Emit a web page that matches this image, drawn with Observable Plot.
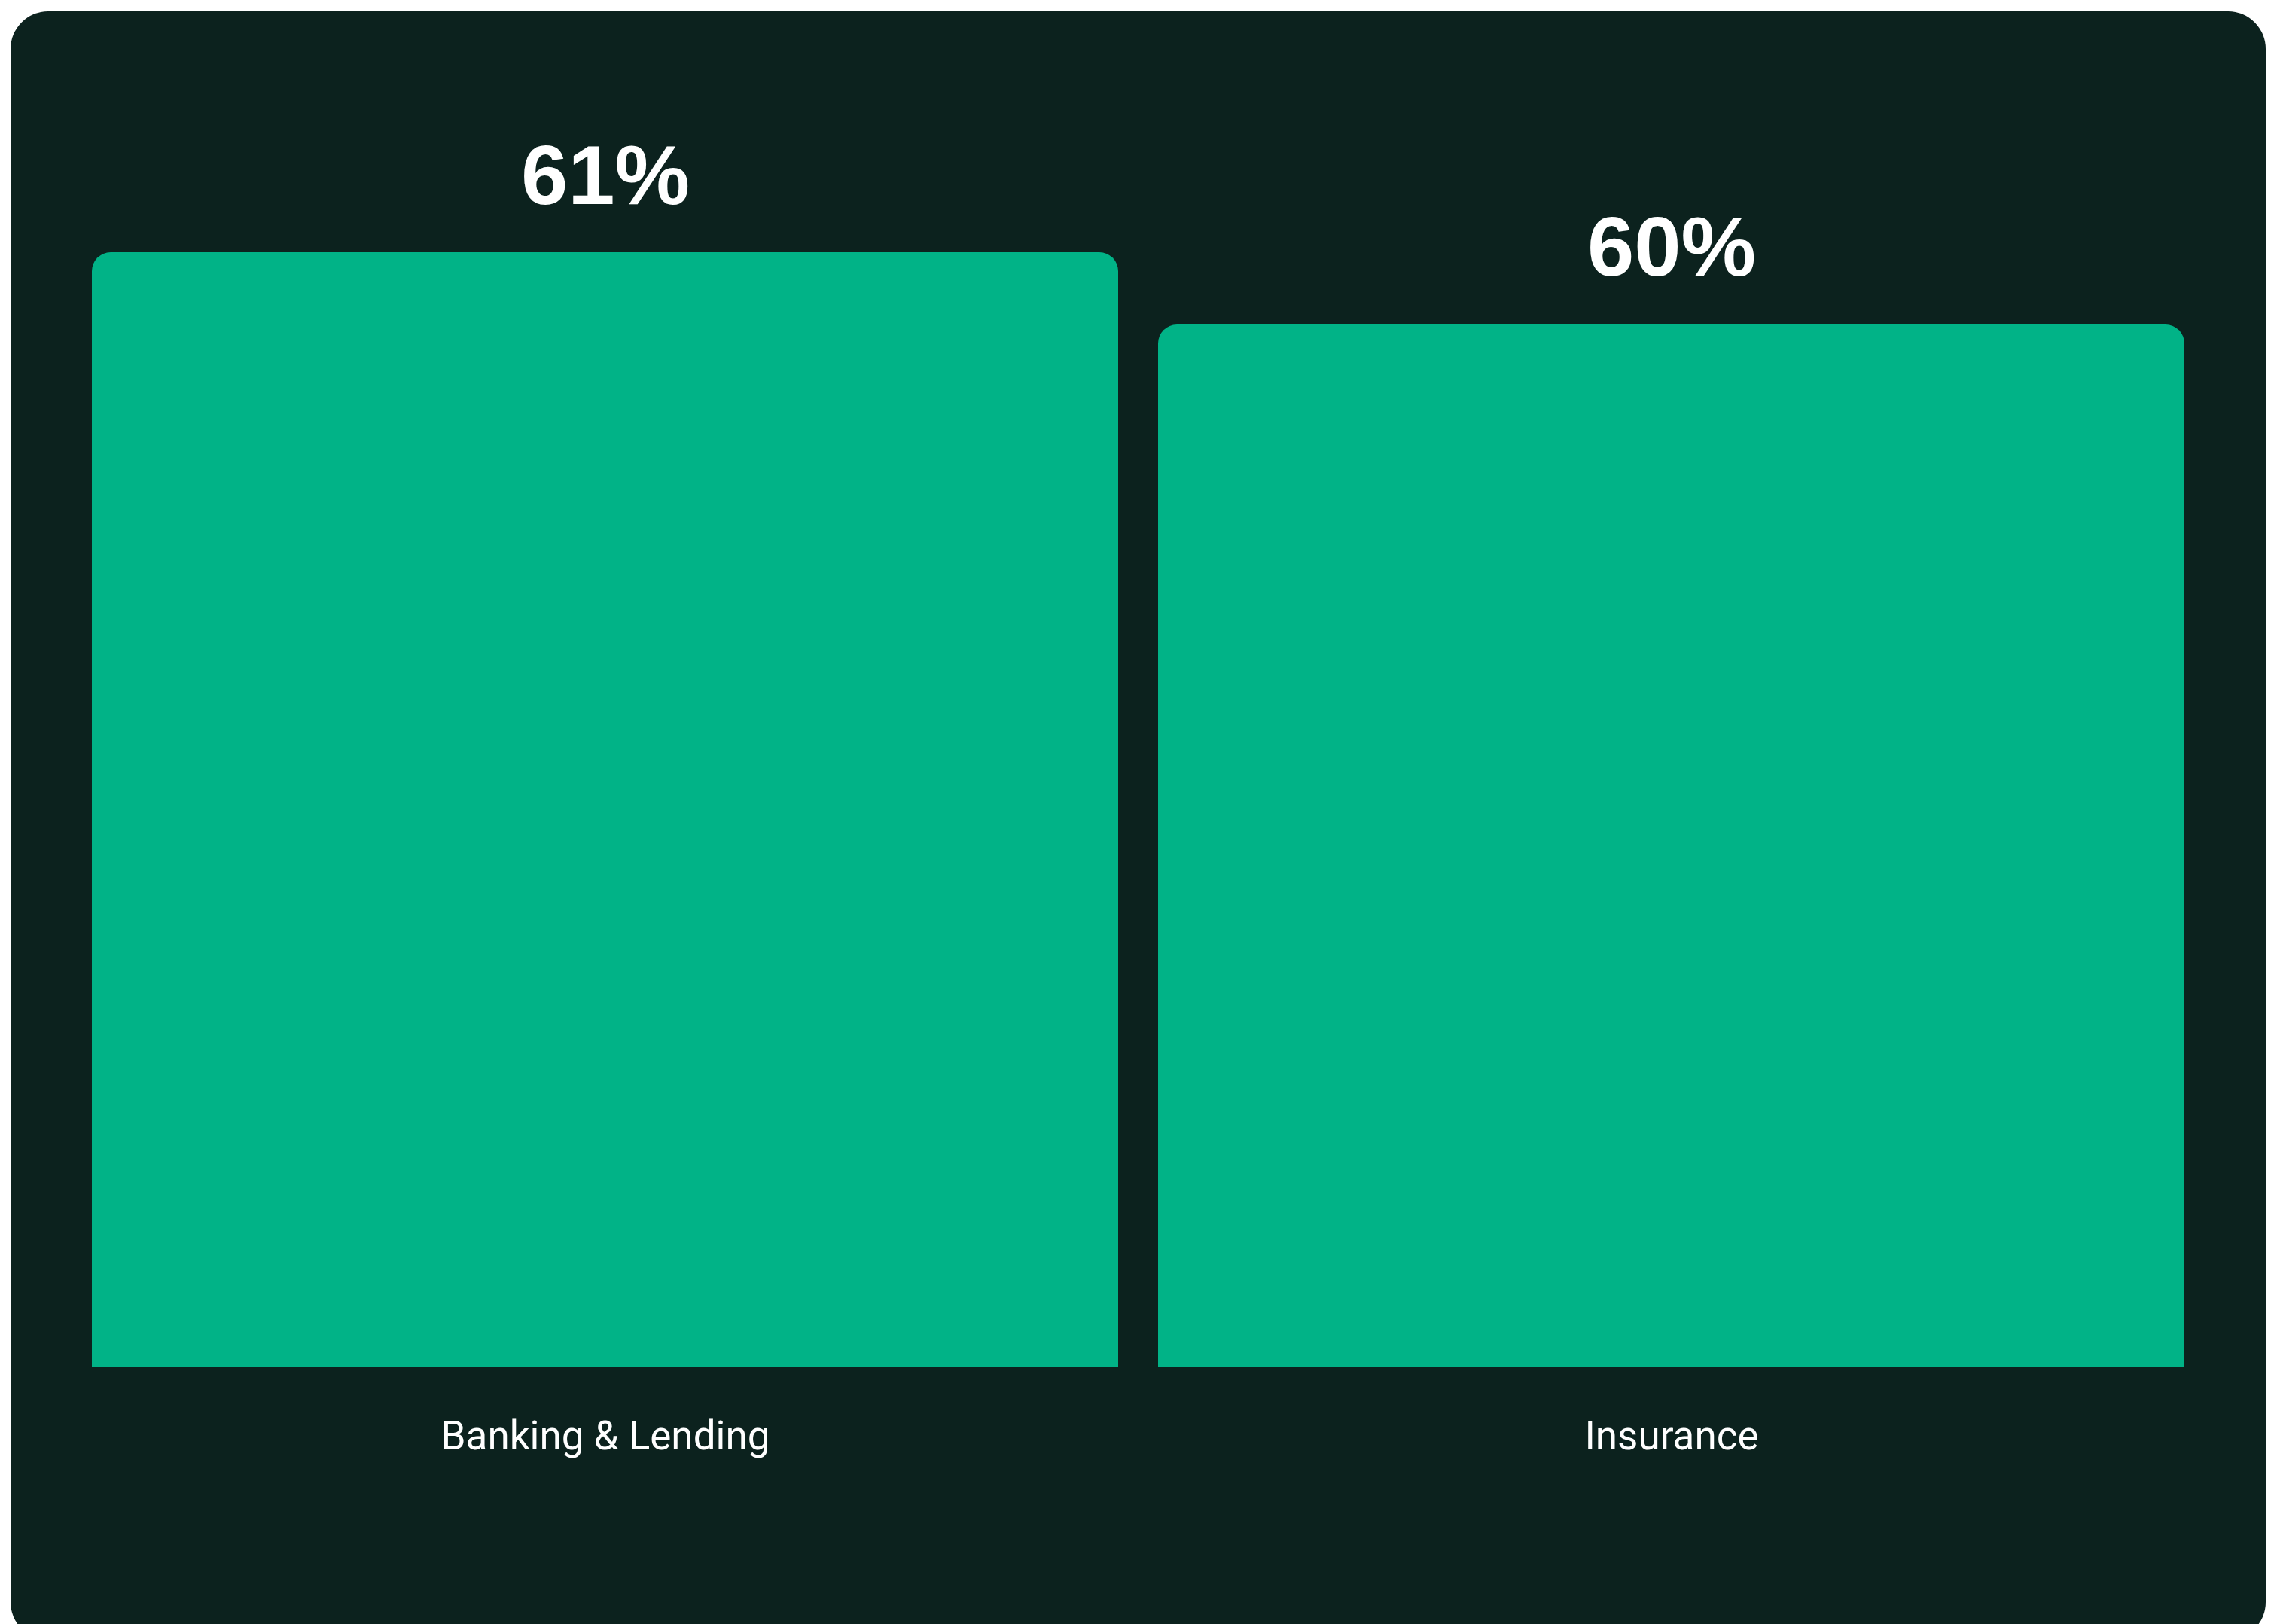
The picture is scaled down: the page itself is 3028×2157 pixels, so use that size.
<!DOCTYPE html>
<html>
<head>
<meta charset="utf-8">
<script src="https://cdn.jsdelivr.net/npm/d3@7"></script>
<script src="https://cdn.jsdelivr.net/npm/@observablehq/plot@0.6"></script>
<style>
  html, body { margin: 0; padding: 0; background: #ffffff; }
  body { width: 3028px; height: 2157px; position: relative; overflow: hidden; }
  #card {
    position: absolute; left: 14px; top: 15px; width: 2995px; height: 2163px;
    background: #0c221e; border-radius: 50px; overflow: hidden;
  }
  #card svg { display: block; }
</style>
</head>
<body>
<div id="card"></div>
<script>
const categories = ["Banking & Lending", "Insurance"];
const values = [61, 60];
const valueLabels = ["61%", "60%"];

const data = categories.map((c, i) => ({category: c, value: values[i], label: valueLabels[i]}));

const W = 2995, H = 2163;
const yBase = 45.58;

const chart = Plot.plot({
  width: W,
  height: H,
  marginLeft: 107,
  marginRight: 107,
  marginTop: 320,
  marginBottom: 363,
  style: {background: "transparent", color: "#ffffff", overflow: "visible"},
  x: {domain: categories, paddingInner: 0.0374, paddingOuter: 0, label: null},
  y: {domain: [yBase, 61], axis: null},
  marks: [
    Plot.barY(data, {x: "category", y1: () => yBase, y2: "value", fill: "#01b387", ry1: 25}),
    Plot.text(data, {
      x: "category", y: "value", text: "label", dy: -65, lineAnchor: "bottom",
      fill: "#ffffff", fontSize: 112, fontWeight: 700,
      fontFamily: "Liberation Sans, Arial, sans-serif"
    }),
    Plot.axisX({
      tickSize: 0, tickPadding: 72, fontSize: 53, label: null,
      fontFamily: "Roboto, Inter, sans-serif", fill: "#ffffff"
    })
  ]
});
document.getElementById("card").appendChild(chart);
</script>
</body>
</html>
